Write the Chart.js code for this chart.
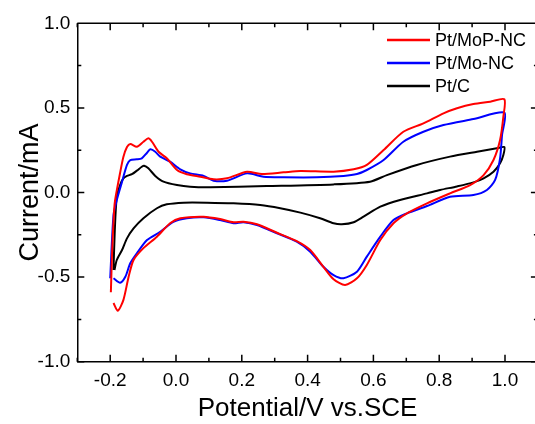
<!DOCTYPE html>
<html>
<head>
<meta charset="utf-8">
<script src="https://cdn.jsdelivr.net/npm/chart.js@4/dist/chart.umd.min.js"></script>
<style>
  html, body { margin: 0; padding: 0; background: #fff; overflow: hidden; }
  #wrap { width: 540px; height: 424px; position: relative; }
</style>
</head>
<body>
<div id="wrap"><canvas id="cv"></canvas></div>
<script>
// Potential (V vs. SCE) and current (mA), forward then reverse
const mopPotential = [-0.198, -0.194, -0.188, -0.185, -0.170, -0.160, -0.149, -0.139, -0.119, -0.099, -0.084, -0.073, -0.053, -0.028, 0.003, 0.033, 0.074, 0.114, 0.155, 0.216, 0.261, 0.327, 0.378, 0.479, 0.540, 0.580, 0.631, 0.691, 0.752, 0.813, 0.854, 0.904, 0.955, 0.998,
  0.995, 0.985, 0.965, 0.935, 0.894, 0.833, 0.763, 0.702, 0.661, 0.621, 0.580, 0.550, 0.514, 0.479, 0.448, 0.408, 0.367, 0.307, 0.246, 0.205, 0.175, 0.134, 0.084, 0.013, -0.018, -0.058, -0.099, -0.129, -0.144, -0.160, -0.177, -0.190];
const mopCurrent = [-0.59, -0.34, -0.103, -0.044, 0.115, 0.210, 0.269, 0.287, 0.271, 0.300, 0.320, 0.300, 0.241, 0.202, 0.133, 0.108, 0.093, 0.078, 0.084, 0.123, 0.109, 0.119, 0.127, 0.123, 0.137, 0.163, 0.251, 0.359, 0.409, 0.468, 0.498, 0.523, 0.537, 0.551,
  0.448, 0.310, 0.192, 0.103, 0.044, -0.005, -0.064, -0.123, -0.182, -0.281, -0.428, -0.507, -0.547, -0.513, -0.439, -0.340, -0.287, -0.238, -0.188, -0.173, -0.176, -0.157, -0.143, -0.152, -0.182, -0.261, -0.329, -0.399, -0.498, -0.636, -0.699, -0.653];

const moPotential = [-0.200, -0.190, -0.180, -0.164, -0.149, -0.139, -0.119, -0.104, -0.088, -0.078, -0.063, -0.048, -0.018, 0.013, 0.043, 0.084, 0.114, 0.155, 0.216, 0.266, 0.327, 0.428, 0.509, 0.550, 0.580, 0.631, 0.691, 0.752, 0.813, 0.904, 0.998,
  0.991, 0.985, 0.970, 0.945, 0.904, 0.833, 0.763, 0.702, 0.661, 0.621, 0.580, 0.550, 0.509, 0.479, 0.448, 0.408, 0.367, 0.307, 0.246, 0.205, 0.175, 0.134, 0.084, 0.033, -0.008, -0.048, -0.088, -0.119, -0.139, -0.154, -0.170, -0.190];
const moCurrent = [-0.507, -0.133, -0.044, 0.064, 0.163, 0.192, 0.196, 0.202, 0.235, 0.255, 0.241, 0.212, 0.182, 0.137, 0.113, 0.098, 0.070, 0.070, 0.113, 0.093, 0.090, 0.090, 0.098, 0.109, 0.133, 0.192, 0.300, 0.359, 0.399, 0.434, 0.472,
  0.340, 0.202, 0.074, 0.015, -0.015, -0.025, -0.080, -0.123, -0.163, -0.261, -0.379, -0.468, -0.507, -0.488, -0.439, -0.350, -0.291, -0.241, -0.192, -0.176, -0.182, -0.163, -0.147, -0.152, -0.173, -0.232, -0.281, -0.359, -0.418, -0.498, -0.533, -0.507];

const ptcPotential = [-0.190, -0.186, -0.180, -0.170, -0.160, -0.149, -0.134, -0.119, -0.104, -0.097, -0.084, -0.063, -0.038, 0.003, 0.043, 0.104, 0.276, 0.479, 0.590, 0.641, 0.732, 0.833, 0.915, 0.975, 0.998,
  0.995, 0.985, 0.965, 0.935, 0.904, 0.854, 0.803, 0.763, 0.681, 0.621, 0.570, 0.540, 0.504, 0.479, 0.438, 0.378, 0.317, 0.256, 0.175, 0.094, 0.023, -0.028, -0.058, -0.099, -0.129, -0.149, -0.164, -0.180, -0.187];
const ptcCurrent = [-0.458, -0.222, -0.025, 0.044, 0.084, 0.098, 0.108, 0.129, 0.152, 0.158, 0.143, 0.098, 0.064, 0.044, 0.034, 0.031, 0.038, 0.048, 0.064, 0.103, 0.163, 0.212, 0.241, 0.261, 0.269,
  0.222, 0.173, 0.123, 0.084, 0.060, 0.036, 0.015, -0.005, -0.044, -0.084, -0.143, -0.176, -0.188, -0.182, -0.152, -0.119, -0.093, -0.074, -0.064, -0.060, -0.060, -0.070, -0.093, -0.152, -0.212, -0.271, -0.340, -0.399, -0.458];

const seriesLabels = ['Pt/MoP-NC', 'Pt/Mo-NC', 'Pt/C'];
const seriesColors = ['#ff0000', '#0000ff', '#000000'];
const xTickValues = [-0.2, 0.0, 0.2, 0.4, 0.6, 0.8, 1.0];
const yTickValues = [-1.0, -0.5, 0.0, 0.5, 1.0];

function toPoints(xs, ys) {
    return xs.map((x, i) => ({ x: x, y: ys[i] }));
}

const seriesPoints = [
    toPoints(mopPotential, mopCurrent),
    toPoints(moPotential, moCurrent),
    toPoints(ptcPotential, ptcCurrent)
];

// inward tick marks on all four sides, plus top/right frame
const frameTicks = {
    id: 'frameTicks',
    afterDatasetsDraw(chart) {
        const ctx = chart.ctx;
        const a = chart.chartArea;
        const xs = chart.scales.x, ys = chart.scales.y;
        ctx.save();
        ctx.strokeStyle = '#000';
        ctx.lineWidth = 1.5;
        ctx.beginPath();
        ctx.moveTo(a.left, a.top); ctx.lineTo(a.right, a.top);
        ctx.moveTo(a.right, a.top); ctx.lineTo(a.right, a.bottom);
        for (let k = -3; k <= 11; k++) {
            const px = xs.getPixelForValue(k / 10);
            const len = (k % 2 === 0) ? 7 : 4;
            ctx.moveTo(px, a.bottom); ctx.lineTo(px, a.bottom - len);
            ctx.moveTo(px, a.top); ctx.lineTo(px, a.top + len);
        }
        for (let k = -4; k <= 4; k++) {
            const py = ys.getPixelForValue(k / 4);
            const len = (k % 2 === 0) ? 7 : 4;
            ctx.moveTo(a.left, py); ctx.lineTo(a.left + len, py);
            ctx.moveTo(a.right, py); ctx.lineTo(a.right - len, py);
        }
        ctx.stroke();
        ctx.restore();
    }
};

// legend drawn inside the plot, top right
const innerLegend = {
    id: 'innerLegend',
    afterDraw(chart) {
        const ctx = chart.ctx;
        ctx.save();
        ctx.font = '18px "Liberation Sans", Arial, sans-serif';
        ctx.textBaseline = 'middle';
        chart.data.datasets.forEach((ds, i) => {
            const y = 40 + i * 23;
            ctx.strokeStyle = ds.borderColor;
            ctx.lineWidth = 2.5;
            ctx.beginPath();
            ctx.moveTo(387, y); ctx.lineTo(430, y);
            ctx.stroke();
            ctx.fillStyle = '#000';
            ctx.fillText(ds.label, 435, y + 1);
        });
        ctx.restore();
    }
};

const tickFont = { family: '"Liberation Sans", Arial, sans-serif', size: 19 };

new Chart(document.getElementById('cv'), {
    type: 'scatter',
    data: {
        datasets: seriesPoints.map((pts, i) => ({
            label: seriesLabels[i],
            data: pts,
            showLine: true,
            borderColor: seriesColors[i],
            backgroundColor: seriesColors[i],
            borderWidth: 2,
            pointRadius: 0,
            tension: 0.25
        }))
    },
    options: {
        responsive: true,
        maintainAspectRatio: false,
        animation: false,
        layout: { padding: { left: 0, top: 23.3, right: 2.1, bottom: 0 } },
        plugins: {
            legend: { display: false },
            tooltip: { enabled: false }
        },
        scales: {
            x: {
                type: 'linear',
                min: -0.3,
                max: 1.1,
                afterBuildTicks: s => { s.ticks = xTickValues.map(v => ({ value: v })); },
                afterFit: s => { s.height = 62.3; },
                grid: { display: false, drawTicks: false },
                border: { display: true, color: '#000', width: 1.5 },
                ticks: {
                    color: '#000',
                    font: tickFont,
                    padding: 8,
                    maxRotation: 0,
                    callback: v => v.toFixed(1)
                },
                title: {
                    display: true,
                    text: 'Potential/V vs.SCE',
                    color: '#000',
                    font: { family: '"Liberation Sans", Arial, sans-serif', size: 26 },
                    padding: { top: 0, bottom: 0 }
                }
            },
            y: {
                min: -1.0,
                max: 1.0,
                afterBuildTicks: s => { s.ticks = yTickValues.map(v => ({ value: v })); },
                afterFit: s => { s.width = 77.3; },
                grid: { display: false, drawTicks: false },
                border: { display: true, color: '#000', width: 1.5 },
                ticks: {
                    color: '#000',
                    font: tickFont,
                    padding: 7,
                    callback: v => v.toFixed(1)
                },
                title: {
                    display: true,
                    text: 'Current/mA',
                    color: '#000',
                    font: { family: '"Liberation Sans", Arial, sans-serif', size: 27 },
                    padding: { top: 14, bottom: 0 }
                }
            }
        }
    },
    plugins: [frameTicks, innerLegend]
});
</script>
</body>
</html>
